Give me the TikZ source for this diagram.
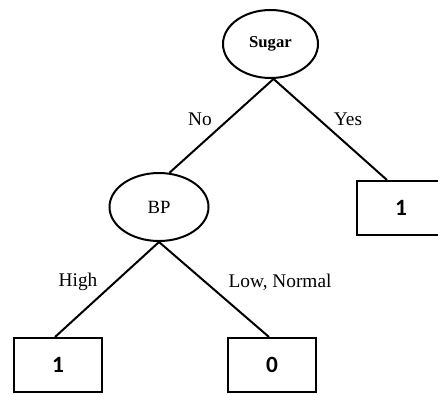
\documentclass[tikz,border=0pt]{standalone}
\usepackage{fontspec}
\setmainfont{Liberation Serif}
\newfontfamily\boxfont{Carlito}
\usetikzlibrary{calc,shapes.geometric}
\begin{document}
\begin{tikzpicture}[x=0.75pt,y=-0.75pt,
  oval/.style={draw,ellipse,line width=1.5pt,inner sep=0pt},
  leaf/.style={draw,rectangle,line width=1.5pt,inner sep=0pt,minimum width=66pt,minimum height=40.5pt,font=\boxfont\bfseries\fontsize{17.5}{20}\selectfont},
  edge/.style={line width=1.5pt},
  lbl/.style={font=\fontsize{14.5}{17}\selectfont,inner sep=0pt}]
\clip (0,0) rectangle (438,394);
\useasboundingbox (0,0) rectangle (438,394);
\node[oval,minimum width=71.25pt,minimum height=51pt,font=\bfseries\fontsize{12.5}{14}\selectfont] (sugar) at (270.5,44) {Sugar};
\node[oval,minimum width=74.25pt,minimum height=51pt,font=\fontsize{14}{16}\selectfont] (bp) at (159,207) {BP};
\node[leaf] (r1) at (401,208) {1};
\node[leaf] (l1) at (58,365) {1};
\node[leaf] (l0) at (272,365) {0};
\coordinate (st) at (sugar.-85);
\coordinate (bt) at (bp.73);
\coordinate (bb) at (bp.south);
\coordinate (r1t) at ($(r1.north west)+(31,0)$);
\coordinate (l1t) at ($(l1.north)+(-3,0)$);
\coordinate (l0t) at ($(l0.north)+(-3,0)$);
\draw[edge] (st) -- (bt);
\draw[edge] (st) -- (r1t);
\draw[edge] (bb) -- (l1t);
\draw[edge] (bb) -- (l0t);
\node[lbl] (no) at (200,119) {No};
\node[lbl] (yes) at (348,119) {Yes};
\node[lbl] (high) at (78,282) {High};
\node[lbl] (lown) at (280,282) {Low, Normal};
\end{tikzpicture}
\end{document}
